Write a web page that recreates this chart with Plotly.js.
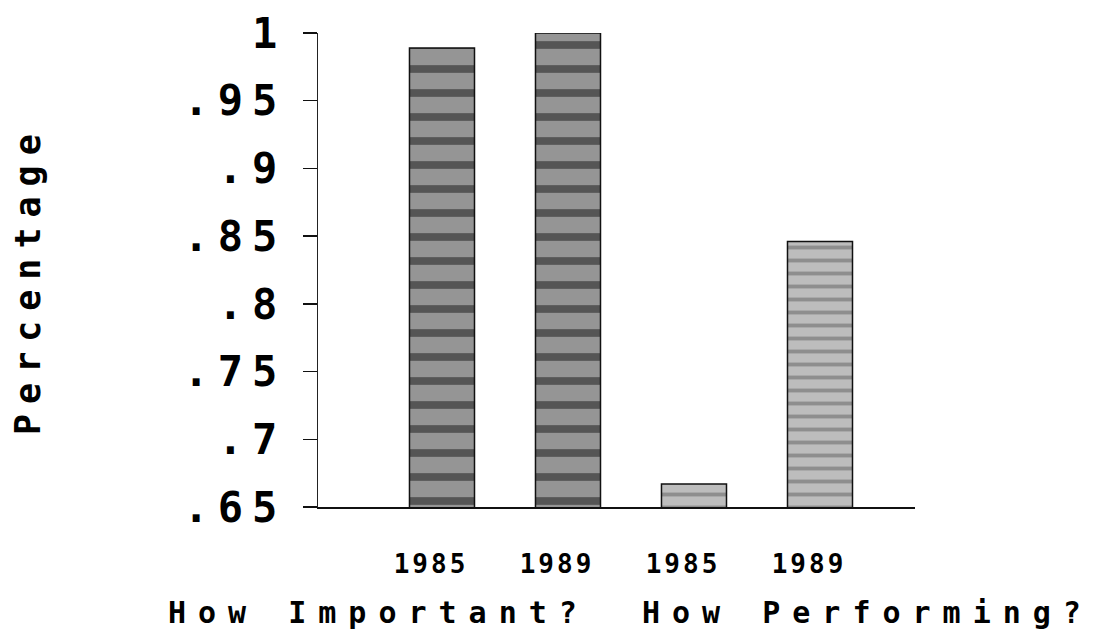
<!DOCTYPE html>
<html>
<head>
<meta charset="utf-8">
<script src="https://cdn.plot.ly/plotly-3.0.1.min.js"></script>
<style>
  html, body { margin: 0; padding: 0; background: #fff; }
  #chart { width: 1095px; height: 637px; }
  .ytick text { letter-spacing: 9px; }
  .xtick text { letter-spacing: 3px; }
  .annotation[data-index="0"] .annotation-text,
  .annotation[data-index="1"] .annotation-text { letter-spacing: 12px; }
  .annotation[data-index="2"] .annotation-text { letter-spacing: 10px; }
</style>
</head>
<body>
<div id="chart"></div>
<script>
// ---- data ----
const groups = ["How Important?", "How Performing?"];
const years = ["1985", "1989", "1985", "1989"];
const importantValues = [0.989, 1.0];
const performingValues = [0.667, 0.846];
const yTickVals = [0.65, 0.7, 0.75, 0.8, 0.85, 0.9, 0.95, 1];
const yTickText = [".65", ".7", ".75", ".8", ".85", ".9", ".95", "1"];
const yTitle = "Percentage";

// ---- styling ----
const positions = years.map((_, i) => i);
const mono = "DejaVu Sans Mono, Liberation Mono, monospace";

const traceImportant = {
  type: "bar",
  name: groups[0],
  x: positions.slice(0, 2),
  y: importantValues,
  width: 0.516,
  marker: {
    color: "#959595",
    line: { color: "#111", width: 1.5 },
    pattern: { shape: "-", fillmode: "overlay", fgcolor: "#151515", size: 24, solidity: 0.32 }
  },
  hoverinfo: "skip"
};

const tracePerforming = {
  type: "bar",
  name: groups[1],
  x: positions.slice(2, 4),
  y: performingValues,
  width: 0.516,
  marker: {
    color: "#bdbdbd",
    line: { color: "#111", width: 1.5 },
    pattern: { shape: "-", fillmode: "overlay", fgcolor: "#606060", size: 13, solidity: 0.3 }
  },
  hoverinfo: "skip"
};

const layout = {
  width: 1095,
  height: 637,
  margin: { l: 318, r: 180, t: 33, b: 130, pad: 0 },
  paper_bgcolor: "#fff",
  plot_bgcolor: "#fff",
  showlegend: false,
  barmode: "overlay",
  xaxis: {
    range: [-0.984, 3.754],
    tickvals: positions,
    ticktext: years,
    ticks: "",
    showgrid: false,
    zeroline: false,
    showline: true,
    linecolor: "#111",
    linewidth: 1.5,
    ticklabelstandoff: 33,
    ticklabelshift: -11,
    tickfont: { family: mono, size: 26, color: "#000", weight: "bold" },
    fixedrange: true
  },
  yaxis: {
    range: [0.65, 1.0],
    tickvals: yTickVals,
    ticktext: yTickText,
    ticks: "outside",
    ticklen: 14,
    tickwidth: 1.5,
    tickcolor: "#111",
    showgrid: false,
    zeroline: false,
    showline: true,
    linecolor: "#222",
    linewidth: 1.2,
    ticklabelstandoff: 8,
    tickfont: { family: mono, size: 42, color: "#000", weight: "bold" },
    fixedrange: true
  },
  annotations: [
    {
      text: groups[0], xref: "paper", yref: "paper",
      x: (378 - 318) / 597, y: (507 - 612) / 474,
      xanchor: "center", yanchor: "middle", showarrow: false,
      font: { family: mono, size: 30, color: "#000", weight: "bold" }
    },
    {
      text: groups[1], xref: "paper", yref: "paper",
      x: (867 - 318) / 597, y: (507 - 612) / 474,
      xanchor: "center", yanchor: "middle", showarrow: false,
      font: { family: mono, size: 30, color: "#000", weight: "bold" }
    },
    {
      text: yTitle, xref: "paper", yref: "paper",
      x: (28 - 318) / 597, y: (507 - 280) / 474,
      xanchor: "center", yanchor: "middle", showarrow: false,
      textangle: -90,
      font: { family: mono, size: 35, color: "#000", weight: "bold" }
    }
  ]
};

Plotly.newPlot("chart", [traceImportant, tracePerforming], layout, { staticPlot: true, displayModeBar: false });
</script>
</body>
</html>
